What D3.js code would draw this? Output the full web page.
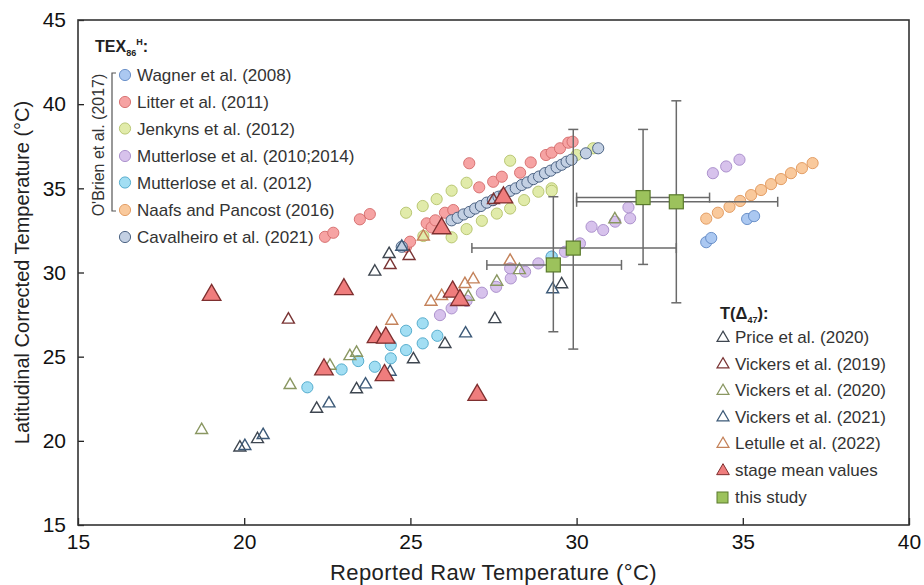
<!DOCTYPE html>
<html>
<head>
<meta charset="utf-8">
<script src="https://cdn.jsdelivr.net/npm/d3@7"></script>
<style>
  body { margin: 0; background: #fff; }
  text { font-family: "Liberation Sans", Arial, sans-serif; }
</style>
</head>
<body>
<div id="d3-container"></div>
<script>
// axis ticks
const xTicks = [15, 20, 25, 30, 35, 40];
const yTicks = [15, 20, 25, 30, 35, 40, 45];

// TEX86H compilations (raw T, corrected T)
const wagner = [[33.9, 31.8], [34.05, 32.05], [35.13, 33.18], [35.34, 33.35]];
const litter = [[22.43, 32.12], [22.68, 32.36], [23.48, 33.16], [23.78, 33.47], [24.87, 31.53], [24.99, 31.83],
  [25.49, 32.92], [25.64, 32.68], [25.75, 33.1], [26.04, 33.55], [26.29, 33.71], [26.77, 36.49], [27.07, 35.06],
  [27.49, 35.39], [27.75, 35.69], [27.49, 34.3], [28.3, 35.93], [28.62, 36.54], [29.08, 36.98], [29.25, 37.12],
  [29.5, 37.38], [29.75, 37.71], [29.88, 37.77]];
const jenkyns = [[24.87, 33.55], [25.37, 33.95], [25.79, 34.36], [26.24, 34.86], [26.69, 35.33], [28.0, 36.64],
  [25.39, 32.17], [26.24, 32.09], [26.69, 32.58], [27.15, 33.07], [27.6, 33.5], [28.0, 33.8], [28.42, 34.3],
  [28.85, 34.8], [29.25, 35.0], [29.25, 34.85], [30.0, 36.98], [30.5, 37.38]];
const mutterlose1014 = [[25.89, 27.47], [26.24, 27.87], [26.69, 28.32], [27.15, 28.8], [27.58, 29.15], [28.02, 29.65],
  [28.0, 30.25], [28.45, 30.05], [28.85, 30.54], [29.25, 30.94], [29.65, 31.23], [30.1, 31.73], [30.45, 32.72],
  [30.8, 32.52], [31.16, 33.02], [31.61, 33.22], [31.56, 33.87], [34.1, 35.9], [34.5, 36.3], [34.9, 36.7]];
const mutterlose12 = [[21.9, 23.18], [22.93, 24.24], [23.43, 24.74], [23.93, 24.4], [24.41, 24.9], [24.41, 25.69],
  [24.87, 25.39], [24.87, 26.54], [25.37, 25.79], [25.37, 26.98], [25.81, 26.24], [29.25, 30.94]];
const naafs = [[33.9, 33.2], [34.25, 33.55], [34.6, 33.9], [34.92, 34.25], [35.25, 34.6], [35.55, 34.9],
  [35.85, 35.25], [36.15, 35.55], [36.45, 35.9], [36.78, 36.2], [37.1, 36.5]];
const cavalheiro = [[24.74, 31.53], [26.24, 33.1], [26.42, 33.25], [26.6, 33.45], [26.78, 33.6], [26.95, 33.8],
  [27.12, 33.95], [27.3, 34.15], [27.48, 34.3], [27.65, 34.5], [27.82, 34.65], [28.0, 34.85], [28.17, 35.0],
  [28.35, 35.2], [28.52, 35.35], [28.7, 35.55], [28.87, 35.7], [29.05, 35.9], [29.22, 36.05], [29.4, 36.25],
  [29.55, 36.4], [29.7, 36.58], [29.85, 36.7], [30.28, 37.08], [30.65, 37.38]];

// T(D47) compilations
const price = [[19.87, 19.6], [20.4, 20.1], [22.18, 21.9], [23.38, 23.06], [25.09, 24.84], [26.04, 25.75],
  [23.93, 30.05], [24.36, 31.1], [27.54, 27.23], [29.55, 29.3]];
const vickers19 = [[21.33, 27.2], [23.98, 26.1], [24.39, 30.44], [24.96, 30.98], [27.5, 34.3]];
const vickers20 = [[18.72, 20.64], [21.38, 23.31], [22.58, 24.46], [23.18, 25.03], [23.38, 25.23], [26.74, 28.56],
  [27.6, 29.45], [28.28, 30.14], [31.15, 33.16]];
const vickers21 = [[20.02, 19.69], [20.57, 20.34], [22.55, 22.22], [23.65, 23.35], [24.39, 24.1], [26.66, 26.38],
  [29.28, 29.0], [24.74, 31.53]];
const letulle = [[24.44, 27.13], [25.62, 28.26], [25.94, 28.6], [26.64, 29.31], [26.89, 29.59], [28.0, 30.7],
  [25.39, 32.13]];
const stageMean = [[19.02, 28.66], [23.0, 29.0], [22.4, 24.24], [23.98, 26.15], [24.26, 26.12], [24.22, 23.9],
  [26.27, 28.86], [26.49, 28.36], [27.01, 22.72], [25.94, 32.62], [27.8, 34.45]];

// this study: raw, corrected, raw min/max, corrected min/max
const studyX = [29.3, 29.9, 32.0, 33.0];
const studyY = [30.45, 31.45, 34.45, 34.2];
const studyXLow = [27.3, 26.85, 30.0, 30.0];
const studyXHigh = [31.35, 33.0, 34.0, 36.05];
const studyYLow = [26.48, 25.45, 30.48, 28.2];
const studyYHigh = [34.5, 38.5, 38.5, 40.2];

const texLegend = ["Wagner et al. (2008)", "Litter et al. (2011)", "Jenkyns et al. (2012)",
  "Mutterlose et al. (2010;2014)", "Mutterlose et al. (2012)", "Naafs and Pancost (2016)", "Cavalheiro et al. (2021)"];
const d47Legend = ["Price et al. (2020)", "Vickers et al. (2019)", "Vickers et al. (2020)",
  "Vickers et al. (2021)", "Letulle et al. (2022)", "stage mean values", "this study"];

const width = 924, height = 585;
const margin = { top: 20, right: 15, bottom: 60, left: 78 };

const svg = d3.select("#d3-container").append("svg")
  .attr("width", width).attr("height", height);

const x = d3.scaleLinear().domain([15, 40]).range([margin.left, width - margin.right]);
const y = d3.scaleLinear().domain([15, 45]).range([height - margin.bottom, margin.top]);

// circle styles
const circleSets = [
  { data: litter, fill: "#f6a3a3", stroke: "#d46a6a" },
  { data: jenkyns, fill: "#e1ebaa", stroke: "#b3c26a" },
  { data: mutterlose1014, fill: "#d7c2ec", stroke: "#a68ac8" },
  { data: mutterlose12, fill: "#a2def3", stroke: "#4aa6c8" },
  { data: naafs, fill: "#f9c99c", stroke: "#e0965a" },
  { data: wagner, fill: "#abc8f1", stroke: "#6088c4" },
  { data: cavalheiro, fill: "#c3d0e3", stroke: "#3d5678" }
];
const legendCircles = [circleSets[5], circleSets[0], circleSets[1], circleSets[2], circleSets[3], circleSets[4], circleSets[6]];

const triSets = [
  { data: price, stroke: "#3e4650" },
  { data: vickers19, stroke: "#7a3434" },
  { data: vickers20, stroke: "#8a9762" },
  { data: vickers21, stroke: "#3d5a78" },
  { data: letulle, stroke: "#c4825a" }
];

const smallTri = d3.symbol().type(d3.symbolTriangle).size(62);
const bigTri = d3.symbol().type(d3.symbolTriangle).size(150);

// draw circles
circleSets.forEach(s => {
  svg.append("g").selectAll("circle").data(s.data).join("circle")
    .attr("cx", d => x(d[0])).attr("cy", d => y(d[1])).attr("r", 5.6)
    .attr("fill", s.fill).attr("stroke", s.stroke).attr("stroke-width", 0.9);
});

// open triangles
triSets.forEach(s => {
  svg.append("g").selectAll("path").data(s.data).join("path")
    .attr("d", smallTri)
    .attr("transform", d => `translate(${x(d[0])},${y(d[1])})`)
    .attr("fill", "none").attr("stroke", s.stroke).attr("stroke-width", 1.4);
});

// stage mean triangles
svg.append("g").selectAll("path").data(stageMean).join("path")
  .attr("d", bigTri)
  .attr("transform", d => `translate(${x(d[0])},${y(d[1])})`)
  .attr("fill", "#ef7d7d").attr("stroke", "#7e2f2f").attr("stroke-width", 1.3);

// error bars for this study
const eb = svg.append("g").attr("stroke", "#6a6a6a").attr("stroke-width", 1.5);
studyX.forEach((sx, i) => {
  const cy = y(studyY[i]), cx = x(sx);
  eb.append("line").attr("x1", x(studyXLow[i])).attr("x2", x(studyXHigh[i])).attr("y1", cy).attr("y2", cy);
  eb.append("line").attr("x1", cx).attr("x2", cx).attr("y1", y(studyYLow[i])).attr("y2", y(studyYHigh[i]));
  [studyXLow[i], studyXHigh[i]].forEach(v =>
    eb.append("line").attr("x1", x(v)).attr("x2", x(v)).attr("y1", cy - 5).attr("y2", cy + 5));
  [studyYLow[i], studyYHigh[i]].forEach(v =>
    eb.append("line").attr("x1", cx - 5).attr("x2", cx + 5).attr("y1", y(v)).attr("y2", y(v)));
});
svg.append("g").selectAll("rect").data(studyX).join("rect")
  .attr("x", (d, i) => x(d) - 7).attr("y", (d, i) => y(studyY[i]) - 7)
  .attr("width", 14).attr("height", 14)
  .attr("fill", "#9cc25c").attr("stroke", "#5a7a2c").attr("stroke-width", 1.2);

// axes (ticks pointing inward)
svg.append("g").attr("transform", `translate(0,${height - margin.bottom})`)
  .call(d3.axisBottom(x).tickValues(xTicks).tickSizeInner(-7).tickSizeOuter(0).tickPadding(9))
  .call(g => g.select(".domain").remove())
  .selectAll("text").attr("font-size", 21).attr("fill", "#111")
  .attr("font-family", "Liberation Sans, Arial, sans-serif");
svg.append("g").attr("transform", `translate(${margin.left},0)`)
  .call(d3.axisLeft(y).tickValues(yTicks).tickSizeInner(-6).tickSizeOuter(0).tickPadding(12))
  .call(g => g.select(".domain").remove())
  .selectAll("text").attr("font-size", 21).attr("fill", "#111")
  .attr("font-family", "Liberation Sans, Arial, sans-serif");
svg.selectAll(".tick line").attr("stroke", "#222").attr("stroke-width", 1.3);

// frame
svg.append("rect")
  .attr("x", margin.left).attr("y", margin.top)
  .attr("width", width - margin.right - margin.left)
  .attr("height", height - margin.bottom - margin.top)
  .attr("fill", "none").attr("stroke", "#333").attr("stroke-width", 1.6);

// axis titles
svg.append("text").attr("x", (margin.left + width - margin.right) / 2).attr("y", 580)
  .attr("text-anchor", "middle").attr("font-size", 22).attr("letter-spacing", 0.4).attr("fill", "#222")
  .text("Reported Raw Temperature (°C)");
svg.append("text")
  .attr("transform", `translate(29,${(margin.top + height - margin.bottom) / 2}) rotate(-90)`)
  .attr("text-anchor", "middle").attr("font-size", 20).attr("fill", "#222")
  .text("Latitudinal Corrected Temperature (°C)");

// TEX86H legend
const texHead = svg.append("text").attr("x", 95).attr("y", 52).attr("font-size", 16)
  .attr("font-weight", "bold").attr("fill", "#222");
texHead.append("tspan").text("TEX");
texHead.append("tspan").attr("font-size", 9).attr("dy", 4).text("86");
texHead.append("tspan").attr("font-size", 9).attr("dy", -11).text("H");
texHead.append("tspan").attr("dy", 7).text(":");

const texRows = [75, 102, 128.5, 156, 182.5, 210, 237];
const lt = svg.append("g");
texLegend.forEach((name, i) => {
  lt.append("circle").attr("cx", 125).attr("cy", texRows[i]).attr("r", 5.6)
    .attr("fill", legendCircles[i].fill).attr("stroke", legendCircles[i].stroke).attr("stroke-width", 0.9);
  lt.append("text").attr("x", 137).attr("y", texRows[i]).attr("dy", "0.36em")
    .attr("font-size", 17).attr("fill", "#333").text(name);
});
// O'Brien bracket
lt.append("path").attr("d", "M116,73 H112 V211 H116").attr("fill", "none")
  .attr("stroke", "#555").attr("stroke-width", 1.2);
lt.append("text").attr("transform", "translate(98,145) rotate(-90)")
  .attr("text-anchor", "middle").attr("dy", "0.36em").attr("font-size", 16).attr("fill", "#333")
  .text("O'Brien et al. (2017)");

// T(D47) legend
const dHead = svg.append("text").attr("x", 720).attr("y", 319).attr("font-size", 16.5)
  .attr("font-weight", "bold").attr("fill", "#222");
dHead.append("tspan").text("T(Δ");
dHead.append("tspan").attr("font-size", 9).attr("dy", 4).text("47");
dHead.append("tspan").attr("dy", -4).text("):");

const dRows = [337, 363.5, 390, 416.5, 443, 470, 497];
const ld = svg.append("g");
d47Legend.forEach((name, i) => {
  const cy = dRows[i];
  if (i < 5) {
    ld.append("path").attr("d", smallTri).attr("transform", `translate(723,${cy + 1})`)
      .attr("fill", "none").attr("stroke", triSets[i].stroke).attr("stroke-width", 1.2);
  } else if (i === 5) {
    ld.append("path").attr("d", d3.symbol().type(d3.symbolTriangle).size(70))
      .attr("transform", `translate(723,${cy + 1})`)
      .attr("fill", "#ef7d7d").attr("stroke", "#7e2f2f").attr("stroke-width", 1);
  } else {
    ld.append("rect").attr("x", 717).attr("y", cy - 5).attr("width", 11).attr("height", 11)
      .attr("fill", "#9cc25c").attr("stroke", "#5a7a2c").attr("stroke-width", 1);
  }
  ld.append("text").attr("x", 735).attr("y", cy).attr("dy", "0.36em")
    .attr("font-size", 17).attr("fill", "#333").text(name);
});
</script>
</body>
</html>
